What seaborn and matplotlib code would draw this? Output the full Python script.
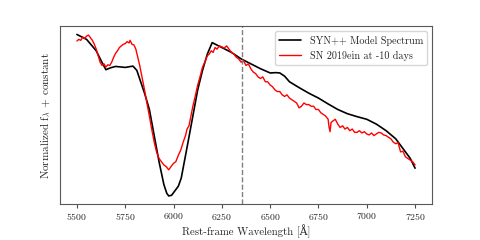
import numpy as np
import pandas as pd
import matplotlib
matplotlib.use("Agg")
import matplotlib.pyplot as plt
import seaborn as sns

# SYN++ model spectrum (wavelength in Angstrom, relative flux)
model_wave = [5500, 5550, 5600, 5625, 5650, 5675, 5700, 5750, 5790, 5810, 5850, 5875,
              5900, 5925, 5950, 5965, 5975, 5990, 6000, 6025, 6040, 6075, 6100, 6125,
              6150, 6175, 6200, 6250, 6300, 6350, 6400, 6450, 6500, 6530, 6550, 6575,
              6600, 6650, 6700, 6750, 6800, 6850, 6900, 6950, 7000, 7050, 7100, 7150,
              7200, 7225, 7250]
model_pix = [110, 125, 160, 190, 218, 212, 208, 211, 207, 220, 290, 340,
             420, 500, 570, 597, 605, 603, 595, 575, 550, 440, 360, 280,
             220, 170, 135, 150, 165, 185, 200, 215, 228, 227, 228, 238,
             255, 273, 290, 305, 323, 340, 353, 362, 370, 385, 405, 430,
             470, 490, 520]

# SN 2019ein observed spectrum at -10 days
obs_wave = [5500, 5510, 5520, 5530, 5540, 5550, 5560, 5570, 5580, 5590, 5600, 5610,
            5620, 5630, 5640, 5650, 5660, 5670, 5680, 5690, 5700, 5710, 5720, 5730,
            5740, 5750, 5760, 5770, 5775, 5785, 5795, 5805, 5815, 5825, 5840, 5850,
            5862, 5875, 5887, 5900, 5912, 5925, 5937, 5950, 5962, 5975, 5987, 6000,
            6012, 6025, 6037, 6050, 6062, 6070, 6080, 6090, 6100, 6112, 6125, 6137,
            6150, 6162, 6175, 6185, 6195, 6205, 6215, 6225, 6237, 6250, 6262, 6275,
            6287, 6300, 6312, 6325, 6337, 6350, 6362, 6375, 6387, 6400, 6412, 6425,
            6437, 6450, 6462, 6475, 6487, 6500, 6512, 6525, 6537, 6550, 6562, 6575,
            6587, 6600, 6612, 6625, 6637, 6650, 6662, 6675, 6687, 6700, 6712, 6725,
            6737, 6750, 6762, 6775, 6787, 6800, 6805, 6810, 6815, 6825, 6837, 6850,
            6862, 6875, 6887, 6900, 6912, 6925, 6937, 6950, 6962, 6975, 6987, 7000,
            7012, 7025, 7037, 7050, 7062, 7075, 7087, 7100, 7112, 7125, 7137, 7150,
            7162, 7175, 7187, 7200, 7212, 7225, 7237, 7250]
obs_pix = [130, 125, 128, 118, 122, 115, 112, 120, 128, 140, 155, 175,
           195, 205, 200, 210, 203, 205, 195, 180, 168, 160, 150, 145,
           140, 138, 132, 136, 128, 140, 142, 155, 180, 205, 250, 280,
           320, 360, 400, 440, 470, 490, 500, 510, 515, 525, 515, 505,
           500, 480, 465, 440, 420, 400, 390, 360, 330, 300, 265, 240,
           210, 195, 175, 170, 160, 165, 150, 155, 145, 148, 152, 145,
           155, 165, 170, 180, 185, 195, 190, 205, 200, 215, 225, 230,
           240, 245, 240, 255, 255, 265, 270, 280, 285, 285, 295, 300,
           295, 305, 310, 315, 320, 335, 330, 320, 325, 325, 330, 330,
           340, 340, 350, 355, 360, 370, 395, 408, 380, 375, 370, 385,
           395, 390, 400, 395, 405, 400, 410, 410, 405, 412, 408, 415,
           418, 412, 420, 415, 410, 412, 418, 420, 425, 430, 440, 445,
           442, 470, 468, 485, 490, 495, 500, 510]

line_wave = 6355

model = pd.DataFrame({"wave": model_wave, "flux": (640 - np.array(model_pix)) / 100})
obs = pd.DataFrame({"wave": obs_wave, "flux": (640 - np.array(obs_pix)) / 100})

sns.set_style("ticks")
plt.rcParams["font.family"] = ["cmr10", "DejaVu Serif"]
plt.rcParams["mathtext.fontset"] = "cm"
plt.rcParams["axes.unicode_minus"] = False
plt.rcParams["axes.formatter.use_mathtext"] = True

fig, ax = plt.subplots(figsize=(4.8, 2.4), dpi=100)
sns.lineplot(data=model, x="wave", y="flux", color="black", lw=1.2, sort=False,
             estimator=None, label="SYN++ Model Spectrum", ax=ax)
sns.lineplot(data=obs, x="wave", y="flux", color="red", lw=1.0, sort=False,
             estimator=None, label="SN 2019ein at -10 days", ax=ax)
ax.axvline(line_wave, color="grey", ls="--", lw=1.0)

ax.set_xticks([5500, 5750, 6000, 6250, 6500, 6750, 7000, 7250])
ax.set_yticks([])
ax.tick_params(axis="x", labelsize=7, length=3, pad=2, color="0.3")
for s in ax.spines.values():
    s.set_color("0.35")
ax.set_xlabel("Rest-frame Wavelength [Å]", fontsize=7.8, labelpad=1.5)
ax.set_ylabel(r"Normalized f$_\lambda$ + constant", fontsize=8, labelpad=6)
ax.legend(loc="upper right", fontsize=7.3, handlelength=2.2)

fig.subplots_adjust(left=0.125, right=0.9, top=0.89, bottom=0.15)
fig.savefig("out.png", dpi=100)
